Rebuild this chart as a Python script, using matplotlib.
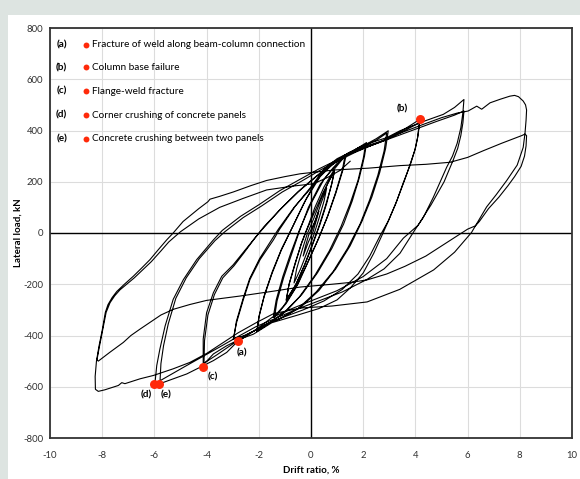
import matplotlib.pyplot as plt
import numpy as np
from matplotlib.patches import Rectangle

plt.rcParams['font.family'] = ['Lato', 'DejaVu Sans']
plt.rcParams['axes.unicode_minus'] = False

## hysteresis path (drift %, lateral load kN)
loop_small = [(0, 0), (0.12, 35), (0.3, 85), (0.22, 55), (0.08, 5), (-0.1, -35), (-0.3, -90),
              (-0.22, -55), (-0.08, -5), (0.15, 45), (0.4, 120), (0.6, 175), (0.5, 125),
              (0.3, 55), (0.1, -10), (-0.15, -75), (-0.4, -140), (-0.65, -195), (-0.55, -140),
              (-0.35, -70), (-0.15, -5)]
loop_09 = [(0.1, 55), (0.4, 135), (0.65, 195), (0.9, 245), (0.8, 195), (0.6, 115), (0.35, 35),
           (0.1, -35), (-0.2, -115), (-0.55, -195), (-0.95, -265), (-0.85, -205), (-0.62, -125),
           (-0.38, -45), (-0.15, 15), (0.15, 85), (0.45, 155), (0.7, 205), (0.9, 240), (0.78, 185),
           (0.55, 105), (0.3, 25), (0.05, -45), (-0.25, -125), (-0.6, -205), (-0.95, -260),
           (-0.83, -195), (-0.6, -115), (-0.35, -35), (-0.12, 25)]
loop_13 = [(0.15, 100), (0.5, 180), (0.9, 250), (1.3, 300), (1.2, 245), (0.95, 160), (0.65, 70),
           (0.3, -20), (-0.1, -110), (-0.5, -200), (-0.95, -275), (-1.4, -330), (-1.3, -265),
           (-1.05, -175), (-0.75, -85), (-0.45, 5), (-0.1, 100), (0.35, 190), (0.85, 255),
           (1.35, 305), (1.22, 245), (0.95, 155), (0.62, 60), (0.25, -30), (-0.15, -120),
           (-0.6, -215), (-1.05, -285), (-1.45, -330), (-1.33, -260), (-1.08, -170),
           (-0.78, -80), (-0.45, 10)]
loop_2 = [(0.0, 115), (0.5, 210), (1.0, 270), (1.45, 310), (1.85, 335), (2.13, 353), (2.05, 300),
          (1.85, 215), (1.58, 125), (1.25, 35), (0.8, -60), (0.25, -155), (-0.35, -240),
          (-0.95, -305), (-1.5, -345), (-2.08, -385), (-2.0, -330), (-1.8, -250), (-1.5, -160),
          (-1.15, -70), (-0.75, 15), (-0.3, 110), (0.2, 205), (0.8, 270), (1.4, 310), (1.8, 332),
          (2.1, 346), (2.0, 290), (1.8, 205), (1.5, 115), (1.15, 25), (0.7, -70), (0.15, -165),
          (-0.45, -250), (-1.05, -312), (-1.6, -352), (-2.06, -380), (-1.98, -320),
          (-1.78, -240), (-1.48, -150), (-1.12, -60), (-0.7, 25)]
loop_3 = [(-0.2, 130), (0.35, 220), (0.95, 280), (1.45, 312), (2.0, 340), (2.5, 368), (2.96, 399),
          (2.86, 330), (2.63, 235), (2.33, 140), (1.95, 45), (1.5, -50), (0.95, -140), (0.3, -225),
          (-0.4, -290), (-1.1, -330), (-1.6, -350), (-2.1, -378), (-2.5, -400), (-2.98, -414),
          (-2.85, -349), (-2.59, -259), (-2.34, -182), (-1.95, -104), (-1.44, -27), (-1.2, 15),
          (-0.6, 105), (0.0, 180), (0.5, 250), (1.0, 290), (1.5, 315), (2.0, 338), (2.5, 362),
          (2.9, 390), (2.8, 320), (2.56, 225), (2.25, 130), (1.88, 35), (1.4, -60), (0.85, -150),
          (0.2, -230), (-0.5, -295), (-1.2, -335), (-1.7, -355), (-2.2, -383), (-2.6, -402),
          (-2.96, -412), (-2.86, -345), (-2.6, -255), (-2.35, -178), (-1.97, -100), (-1.5, -25),
          (-1.25, 15), (-0.65, 100), (0.0, 175)]
loop_4 = [(0.6, 255), (1.2, 298), (1.49, 315), (2.2, 343), (2.77, 360), (3.5, 400), (4.18, 444),
          (4.1, 380), (4.0, 330), (3.82, 275), (3.6, 210), (3.3, 129), (3.0, 55), (2.76, 0),
          (2.4, -80), (2.0, -156), (1.5, -215), (1.0, -261), (0.3, -295), (-0.5, -320),
          (-1.5, -350), (-2.21, -395), (-2.72, -414), (-3.23, -440), (-3.74, -472),
          (-4.13, -515), (-4.13, -414), (-4.0, -311), (-3.74, -233), (-3.42, -169),
          (-2.98, -124), (-2.21, -27), (-1.9, 10), (-1.2, 90), (-0.5, 160), (0.2, 220),
          (0.8, 265), (1.4, 305), (2.0, 330), (2.8, 360), (3.5, 395), (4.15, 430), (4.08, 370),
          (3.97, 320), (3.8, 265), (3.55, 200), (3.25, 115), (2.95, 45), (2.65, -10),
          (2.25, -90), (1.8, -160), (1.2, -220), (0.5, -265), (-0.3, -300), (-1.1, -330),
          (-1.8, -360), (-2.5, -400), (-3.1, -440), (-3.6, -475), (-4.1, -508), (-4.08, -420),
          (-3.95, -320), (-3.7, -240), (-3.38, -175), (-2.95, -128), (-2.55, -75),
          (-2.15, -20), (-1.8, 25), (-1.1, 100), (-0.4, 170), (0.3, 230), (0.9, 275)]
loop_6 = [(1.4, 310), (2.13, 347), (2.9, 372), (3.41, 399), (4.3, 435), (5.07, 463), (5.5, 490),
          (5.86, 521), (5.82, 470), (5.74, 410), (5.6, 350), (5.42, 300), (5.2, 257), (4.95, 200),
          (4.69, 140), (4.3, 60), (3.98, 12), (3.41, -79), (2.8, -140), (2.13, -182),
          (1.2, -230), (0.3, -265), (-0.6, -300), (-1.4, -335), (-2.1, -365), (-2.9, -410),
          (-3.5, -445), (-4.2, -485), (-4.9, -525), (-5.5, -560), (-5.98, -588), (-5.91, -517),
          (-5.79, -453), (-5.59, -363), (-5.28, -259), (-4.89, -182), (-4.38, -104),
          (-3.74, -27), (-3.4, 10), (-2.7, 65), (-2.0, 110), (-1.2, 165), (-0.5, 205),
          (0.3, 250), (1.0, 285), (1.6, 315), (2.4, 345), (3.2, 375), (4.0, 405), (4.8, 435),
          (5.5, 460), (5.86, 476), (5.82, 430), (5.74, 380), (5.62, 330), (5.45, 285),
          (5.1, 200), (4.6, 110), (4.1, 30), (3.54, -20), (2.9, -100), (2.0, -170), (1.0, -225),
          (0.0, -265), (-0.8, -298), (-1.5, -330), (-2.08, -375), (-2.85, -427), (-3.23, -466),
          (-3.74, -498), (-4.25, -524), (-4.76, -550), (-5.28, -569), (-5.79, -588),
          (-5.75, -510), (-5.65, -440), (-5.47, -355), (-5.18, -255), (-4.78, -175),
          (-4.28, -100), (-3.68, -30), (-3.3, 5), (-2.6, 60), (-1.9, 105), (-1.1, 160),
          (-0.4, 200), (0.4, 248), (1.1, 285), (1.7, 315), (2.5, 350), (3.3, 385), (4.2, 420),
          (5.0, 450), (5.6, 468), (6.02, 476)]
loop_8a = [(6.35, 495), (6.54, 483), (6.86, 508), (7.25, 522), (7.62, 534), (7.8, 537),
           (7.95, 532), (8.13, 515), (8.22, 500), (8.26, 480), (8.24, 440), (8.2, 390),
           (8.13, 334), (7.9, 265), (7.5, 205), (7.1, 150), (6.73, 102), (6.28, 24), (6.15, 2),
           (5.5, -75), (4.7, -144), (3.4, -220), (2.15, -269), (0.8, -285), (-0.42, -293),
           (-1.44, -315), (-2.1, -350), (-2.8, -390), (-3.4, -430), (-4.0, -470), (-4.64, -505),
           (-5.28, -530), (-6.04, -556), (-6.55, -569), (-7.13, -588), (-7.25, -584),
           (-7.38, -595), (-7.9, -612), (-8.15, -618), (-8.26, -610), (-8.27, -560),
           (-8.22, -500), (-8.12, -440), (-8.0, -380), (-7.88, -310), (-7.78, -280),
           (-7.62, -252), (-7.44, -228), (-7.15, -200), (-6.81, -169), (-6.5, -138),
           (-6.17, -104), (-5.85, -65), (-5.53, -27), (-5.28, 0), (-4.9, 45), (-4.3, 95),
           (-3.95, 122), (-3.87, 132), (-3.5, 143), (-2.98, 160), (-2.3, 185), (-1.7, 205),
           (-1.0, 220), (-0.42, 231), (0.9, 246), (2.2, 253), (3.41, 263), (4.4, 268),
           (5.33, 276), (6.0, 295), (6.6, 321), (7.3, 350), (8.07, 380), (8.2, 386),
           (8.26, 380)]
loop_8b = [(8.24, 340), (8.18, 300), (8.05, 260), (7.8, 220), (7.55, 185), (7.2, 140),
           (6.8, 95), (6.45, 45), (6.3, 28), (6.0, 15), (5.07, -46), (4.4, -90), (3.6, -130),
           (2.9, -160), (2.15, -183), (1.5, -193), (0.8, -200), (-0.42, -211), (-1.44, -227),
           (-2.72, -246), (-4.0, -263), (-4.64, -279), (-5.28, -298), (-5.75, -320),
           (-6.17, -349), (-6.55, -375), (-6.9, -400), (-7.19, -427), (-7.7, -465),
           (-8.15, -500), (-8.2, -495), (-8.12, -450), (-8.0, -388), (-7.85, -310),
           (-7.7, -272), (-7.52, -245), (-7.32, -222), (-6.77, -175), (-6.12, -112),
           (-5.75, -70), (-5.45, -35), (-5.0, 5), (-4.3, 55), (-3.5, 100), (-2.6, 135),
           (-1.7, 168), (-0.7, 183), (0.09, 192), (0.6, 215), (1.11, 244), (1.5, 280)]

curve = np.array(loop_small + loop_09 + loop_13 + loop_2 + loop_3 + loop_4 + loop_6
                 + loop_8a + loop_8b)

## failure points
event_tags = ["(a)", "(b)", "(c)", "(d)", "(e)"]
event_text = ["Fracture of weld along beam-column connection", "Column base failure",
              "Flange-weld fracture", "Corner crushing of concrete panels",
              "Concrete crushing between two panels"]
event_drift = [-2.81, 4.18, -4.13, -6.0, -5.81]
event_load = [-423, 444, -521, -588, -588]
tag_drift = [-2.63, 3.5, -3.75, -6.32, -5.55]
tag_load = [-469, 484, -560, -633, -633]

red = '#ff2a0a'

fig = plt.figure(figsize=(5.8, 4.79), dpi=100, facecolor='#dde4e1')
fig.patches.append(Rectangle((8 / 580, 0), 1, 1 - 15 / 479, transform=fig.transFigure,
                             facecolor='white', edgecolor='none', zorder=-10))
ax = fig.add_axes([50 / 580, 1 - 438 / 479, 522 / 580, 410 / 479])

ax.plot(curve[:, 0], curve[:, 1], color='black', lw=0.8, zorder=3)
ax.axhline(0, color='black', lw=1.0, zorder=2)
ax.axvline(0, color='black', lw=1.0, zorder=2)
ax.scatter(event_drift, event_load, s=42, color=red, zorder=4, linewidths=0)

for tag, x, y in zip(event_tags, tag_drift, tag_load):
    ax.text(x, y, tag, fontsize=7.2, fontweight='bold', ha='center', va='center', zorder=5)

# legend-like list in the top left corner
legend_y = [734, 646, 553, 459, 368]
for tag, txt, y in zip(event_tags, event_text, legend_y):
    ax.text(-9.55, y, tag, fontsize=7.2, fontweight='bold', ha='center', va='center')
    ax.scatter([-8.62], [y], s=18, color=red, linewidths=0, zorder=4)
    ax.text(-8.4, y, txt, fontsize=7.2, ha='left', va='center')

ax.set_xlim(-10, 10)
ax.set_ylim(-800, 800)
ax.set_xticks(range(-10, 11, 2))
ax.set_yticks(range(-800, 801, 200))
ax.tick_params(length=0, labelsize=6.8, colors='#303030')
ax.tick_params(axis='x', pad=9)
ax.tick_params(axis='y', pad=5)
ax.grid(color='#dcdcdc', lw=0.8)
ax.set_axisbelow(True)
for s in ax.spines.values():
    s.set_color('#333333')
    s.set_linewidth(1.3)

fig.text(311 / 580, 1 - 470 / 479, "Drift ratio, %", fontsize=7, fontweight='bold',
         ha='center', va='center')
fig.text(18 / 580, 1 - 233 / 479, "Lateral load, kN", fontsize=7, fontweight='bold',
         rotation=90, ha='center', va='center')

fig.savefig("out.png", dpi=100, facecolor=fig.get_facecolor())
